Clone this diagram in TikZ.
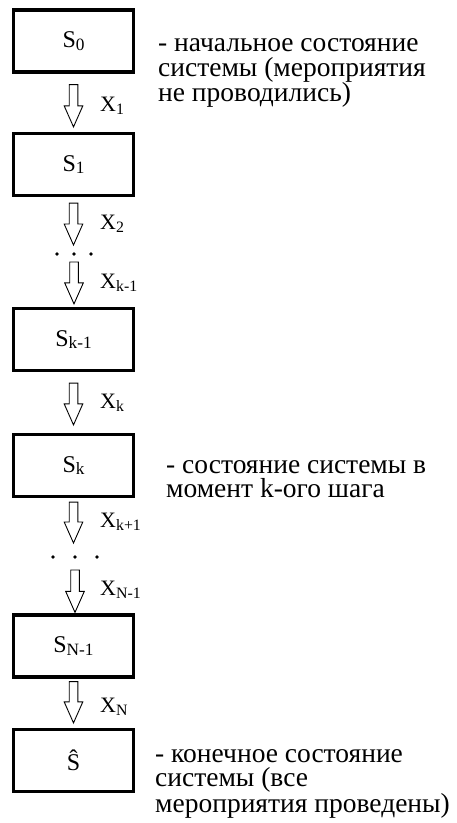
\documentclass[tikz,border=0pt]{standalone}
\usepackage{fontspec}
\setmainfont{Liberation Serif}
\usetikzlibrary{calc}
\definecolor{stateInk}{HTML}{000000}
\newcommand{\lowidx}[1]{\raisebox{-0.12em}{\scalebox{0.72}{#1}}}

\tikzset{
  statebox/.style={draw=stateInk, line width=3.2pt, minimum width=120pt, minimum height=62pt, inner sep=0pt, font=\fontsize{24}{28}\selectfont},
  steplabel/.style={anchor=west, inner sep=0pt, font=\fontsize{22}{26}\selectfont},
  hollow/.style={draw=stateInk, line width=0.9pt, to path={let \p1=(\tikztostart), \p2=(\tikztotarget) in
    (\x1-4.3pt,\y1) -- (\x1-4.3pt,\y2+21pt) -- (\x1-9.3pt,\y2+21pt) -- (\x1,\y2) -- (\x1+9.3pt,\y2+21pt) -- (\x1+4.3pt,\y2+21pt) -- (\x1+4.3pt,\y1) -- cycle}},
  gap/.style={inner sep=0pt, minimum size=0pt},
  note/.style={anchor=base west, align=left, inner sep=0pt}
}

\begin{document}
\begin{tikzpicture}[x=1pt, y=-1pt]
\useasboundingbox (0,0) rectangle (456,823);

% states
\foreach \name/\y/\lab in {s0/41/{S\lowidx{0}}, s1/164.5/{S\lowidx{1}}, skm/339.5/{S\lowidx{k-1}}, sk/465.5/{S\lowidx{k}}, snm/646/{S\lowidx{N-1}}, send/760.5/{Ŝ}} {
  \node[statebox] (\name) at (73.5,\y) {\lab};
}

% the two gaps
\node[gap] (dA) at (74,254) {};
\node[gap] (dB) at (75,557) {};
\foreach \d/\w in {dA/17, dB/22} {
  \fill[stateInk] ([xshift=-\w pt]\d) circle (1.9pt) (\d) circle (1.9pt) ([xshift=\w pt]\d) circle (1.9pt);
}

% steps
\draw[hollow] ([yshift=-11pt]s0.south) to ([yshift=5pt]s1.north);
\draw[hollow] ([yshift=-6pt]s1.south) to ([yshift=9pt]dA.center);
\draw[hollow] ([yshift=-8pt]dA.center) to ([yshift=3pt]skm.north);
\draw[hollow] ([yshift=-11pt]skm.south) to ([yshift=8pt]sk.north);
\draw[hollow] ([yshift=-4pt]sk.south) to ([yshift=14pt]dB.center);
\draw[hollow] ([yshift=-13pt]dB.center) to ([yshift=1pt]snm.north);
\draw[hollow] ([yshift=-3pt]snm.south) to ([yshift=5pt]send.north);

\foreach \y/\lab in {106/1, 224/2, 283/{k-1}, 403/k, 522/{k+1}, 590/{N-1}, 707/N} {
  \node[steplabel] at (100,\y) {X\lowidx{\lab}};
}

% descriptions (base = last line)
\node[note, font=\fontsize{27.5}{25}\selectfont] (n0) at (158,101) {- начальное состояние\\системы (мероприятия\\не проводились)};
\node[note, font=\fontsize{27.5}{24}\selectfont] (nk) at (166,497) {- состояние системы в\\момент k-ого шага};
\node[note, font=\fontsize{27.5}{24}\selectfont] (nend) at (155,812) {- конечное состояние\\системы (все\\мероприятия проведены)};
\end{tikzpicture}
\end{document}
